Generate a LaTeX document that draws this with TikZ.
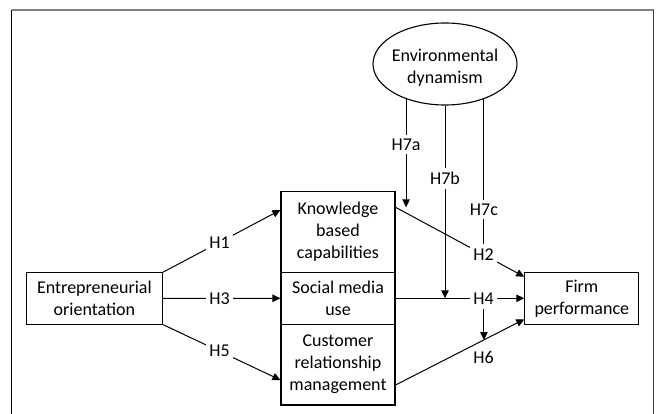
\documentclass[tikz,border=0pt]{standalone}
\usepackage{fontspec}
\setmainfont{Carlito}
\usetikzlibrary{arrows.meta,shapes.geometric,calc}

\begin{document}
\begin{tikzpicture}[x=1pt,y=-1pt,>={Triangle[length=8pt,width=7.5pt]},
    font=\fontsize{18}{22}\selectfont,
    cbox/.style={draw,line width=1.1pt,align=center,inner sep=0pt,minimum width=114pt},
    hyp/.style={fill=white,inner xsep=3.5pt,inner ysep=4pt},
    link/.style={->,line width=1pt}]
    \useasboundingbox (0,0) rectangle (657,414);
    % frame
    \draw[line width=2pt,gray] (11.5,10) -- (653.5,10);
    \draw[line width=1.3pt] (11.5,10) -- (11.5,414);
    \draw[line width=1.5pt,black!75] (653.5,10) -- (653.5,414);
    % constructs
    \node[cbox,minimum width=136.5pt,minimum height=51.5pt] (eo) at (94.4,298.4) {Entrepreneurial\\orientation};
    \node[cbox,minimum height=80.5pt] (kbc) at (338,232) {Knowledge\\based\\capabilities};
    \node[cbox,minimum height=52pt] (smu) at (338,298.3) {Social media\\use};
    \node[cbox,minimum height=80.7pt] (crm) at (338,364.7) {Customer\\relationship\\management};
    \node[cbox,minimum height=52pt] (fp) at (581.8,298.3) {Firm\\performance};
    \node[draw,ellipse,line width=1.1pt,minimum width=144pt,minimum height=82pt,inner sep=0pt] (ed) at (445,64) {};
    \node[align=center] (edtext) at (445,68) {Environmental\\dynamism};
    % direct effects
    \draw[link] (eo.north east) -- node[hyp,pos=0.48] {H1} ([yshift=22pt]kbc.west);
    \draw[link] (eo.east) -- node[hyp,pos=0.48] {H3} (smu.west);
    \draw[link] (eo.south east) -- node[hyp,pos=0.48] {H5} ([yshift=-15.3pt]crm.west);
    \draw[link] ([yshift=-20.3pt]crm.east) -- coordinate[pos=0.684] (m6)
      node[pos=0.684,below=7pt] {H6} ([yshift=-21pt]fp.west);
    % moderation
    \coordinate (k2) at ([yshift=24.7pt]kbc.east);
    \draw[link] (ed.222) -- node[hyp,pos=0.42] {H7a} (ed.222 |- k2);
    \draw[link] (ed.south) -- node[hyp,pos=0.38] {H7b} (ed.south |- smu.east);
    \draw[link] (k2) -- node[hyp,pos=0.684] (l2) {H2} ([yshift=21.6pt]fp.west);
    \draw[link] (smu.east) -- node[hyp,pos=0.684] (l4) {H4} (fp.west);
    \draw[line width=1pt] (ed.318) -- node[hyp,pos=0.76] {H7c} (ed.318 |- l2.north);
    \draw[link] (ed.318 |- l4.south) -- (ed.318 |- m6);
\end{tikzpicture}
\end{document}
